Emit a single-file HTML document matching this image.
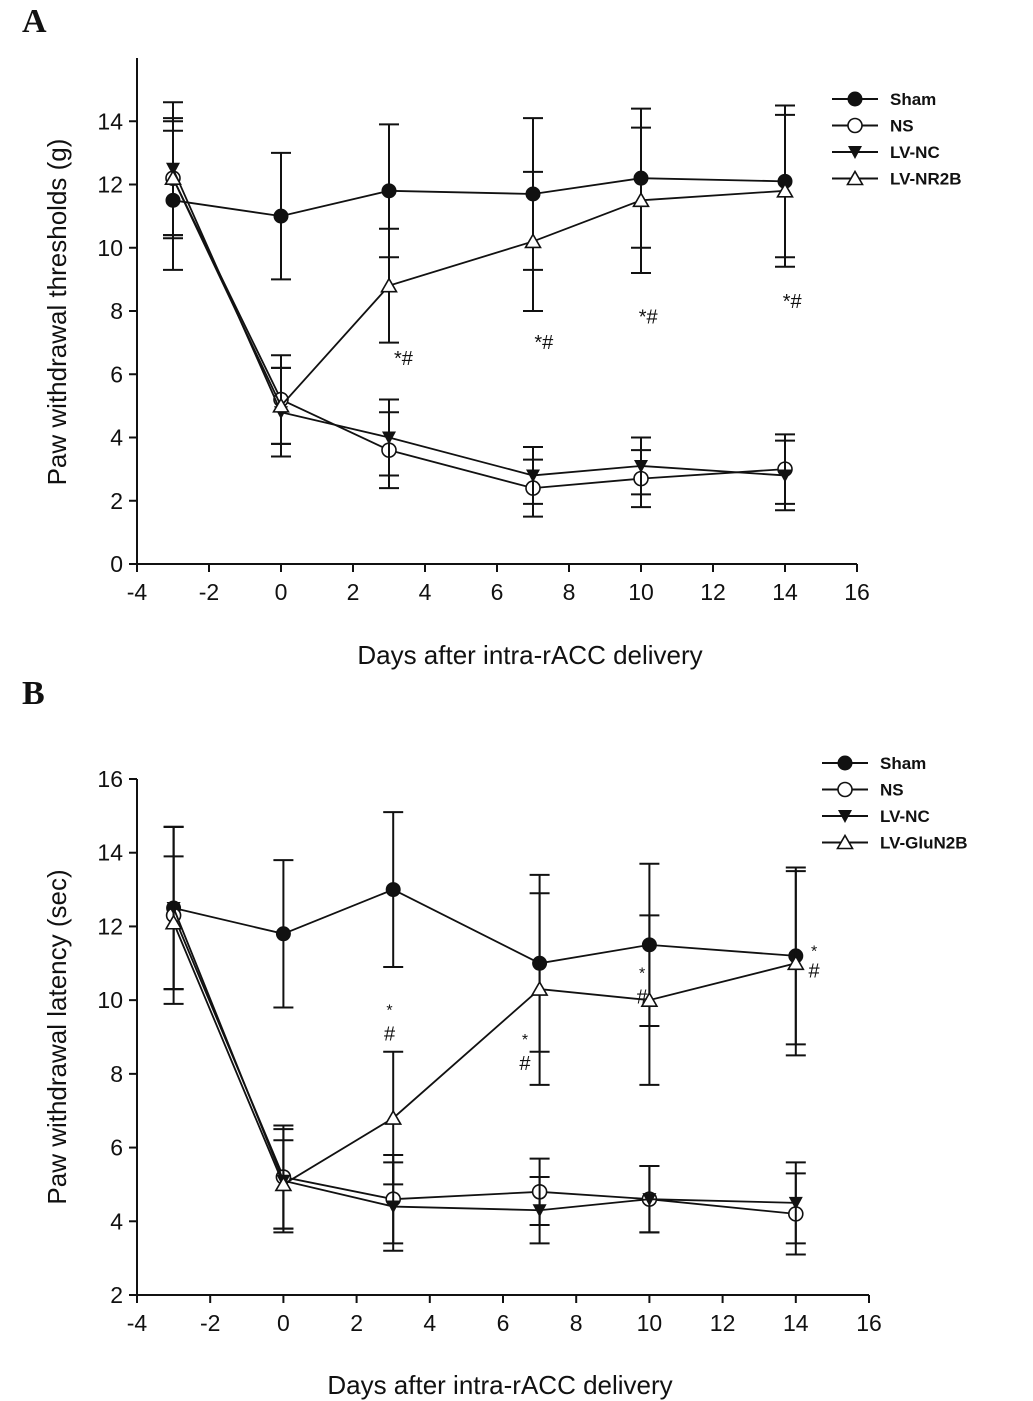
<!DOCTYPE html>
<html><head><meta charset="utf-8"><style>
html,body{margin:0;padding:0;background:#fff}
svg{display:block}
text{font-family:"Liberation Sans",Arial,sans-serif;fill:#111}
</style></head><body>
<svg id="fig" width="1033" height="1401" viewBox="0 0 1033 1401" xmlns="http://www.w3.org/2000/svg">
<text x="22" y="32" style="font-family:'Liberation Serif',serif;font-weight:bold;font-size:34px">A</text>
<text x="22" y="704" style="font-family:'Liberation Serif',serif;font-weight:bold;font-size:34px">B</text>
</svg>
<script>
const days = [-3, 0, 3, 7, 10, 14];
const seriesNames = ["Sham", "NS", "LV-NC", "LV-NR2B"];
const seriesNamesB = ["Sham", "NS", "LV-NC", "LV-GluN2B"];
// Panel A means and SEM
const aSham = [11.5, 11.0, 11.8, 11.7, 12.2, 12.1];
const aShamErr = [2.2, 2.0, 2.1, 2.4, 2.2, 2.4];
const aNS = [12.2, 5.2, 3.6, 2.4, 2.7, 3.0];
const aNSErr = [1.8, 1.4, 1.2, 0.9, 0.9, 1.1];
const aNC = [12.5, 4.8, 4.0, 2.8, 3.1, 2.8];
const aNCErr = [2.1, 1.4, 1.2, 0.9, 0.9, 1.1];
const aNR2B = [12.2, 5.0, 8.8, 10.2, 11.5, 11.8];
const aNR2BErr = [1.9, 1.2, 1.8, 2.2, 2.3, 2.4];
// Panel B means and SEM
const bSham = [12.5, 11.8, 13.0, 11.0, 11.5, 11.2];
const bShamErr = [2.2, 2.0, 2.1, 2.4, 2.2, 2.4];
const bNS = [12.3, 5.2, 4.6, 4.8, 4.6, 4.2];
const bNSErr = [2.4, 1.4, 1.2, 0.9, 0.9, 1.1];
const bNC = [12.5, 5.1, 4.4, 4.3, 4.6, 4.5];
const bNCErr = [2.2, 1.4, 1.2, 0.9, 0.9, 1.1];
const bGlu = [12.1, 5.0, 6.8, 10.3, 10.0, 11.0];
const bGluErr = [1.8, 1.2, 1.8, 2.6, 2.3, 2.5];
const xTicks = [-4, -2, 0, 2, 4, 6, 8, 10, 12, 14, 16];
const yTicksA = [0, 2, 4, 6, 8, 10, 12, 14];
const yTicksB = [2, 4, 6, 8, 10, 12, 14, 16];
const annotA = [[3.4, 6.3], [7.3, 6.8], [10.2, 7.6], [14.2, 8.1]];
const annotB = [[2.9, 9.8, 9.1], [6.6, 9.0, 8.3], [9.8, 10.8, 10.1], [14.5, 11.4, 10.8]];

const NS = "http://www.w3.org/2000/svg";
const svg = document.getElementById('fig');
function el(tag, attrs, parent) {
  const e = document.createElementNS(NS, tag);
  for (const k in attrs) e.setAttribute(k, attrs[k]);
  (parent || svg).appendChild(e);
  return e;
}
const markers = ["filled-circle", "open-circle", "filled-down-triangle", "open-up-triangle"];
function marker(type, cx, cy, g) {
  let m;
  if (type === "filled-circle") m = el('circle', {cx: cx, cy: cy, r: 7, fill: '#111', stroke: '#111'}, g);
  else if (type === "open-circle") m = el('circle', {cx: cx, cy: cy, r: 7, fill: '#fff', stroke: '#111', 'stroke-width': 1.6}, g);
  else if (type === "filled-down-triangle") m = el('polygon', {points: `${cx-7},${cy-6} ${cx+7},${cy-6} ${cx},${cy+7}`, fill: '#111'}, g);
  else m = el('polygon', {points: `${cx-7.5},${cy+6} ${cx+7.5},${cy+6} ${cx},${cy-7}`, fill: '#fff', stroke: '#111', 'stroke-width': 1.6}, g);
  return m;
}
function panel(cfg) {
  const sx = v => cfg.x0 + (v - cfg.xmin) / (cfg.xmax - cfg.xmin) * (cfg.x1 - cfg.x0);
  const sy = v => cfg.y0 - (v - cfg.ymin) / (cfg.ymax - cfg.ymin) * (cfg.y0 - cfg.y1);
  const g = el('g', {});
  
  
  const ax = el('path', {d: `M${cfg.x0},${cfg.y1} V${cfg.y0} H${cfg.x1}`, fill: 'none', stroke: '#111', 'stroke-width': 2}, g);
  
  
  xTicks.forEach(t => {
    el('line', {x1: sx(t), x2: sx(t), y1: cfg.y0, y2: cfg.y0 + 8, stroke: '#111', 'stroke-width': 2}, g);
    const tx = el('text', {x: sx(t), y: cfg.y0 + 36, 'text-anchor': 'middle', 'font-size': 23}, g);
    tx.textContent = t;
    
    
  });
  cfg.yTicks.forEach(t => {
    el('line', {x1: cfg.x0 - 8, x2: cfg.x0, y1: sy(t), y2: sy(t), stroke: '#111', 'stroke-width': 2}, g);
    const tx = el('text', {x: cfg.x0 - 14, y: sy(t) + 8, 'text-anchor': 'end', 'font-size': 23}, g);
    tx.textContent = t;
    
    
  });
  const xt = el('text', {x: cfg.xTitleX, y: cfg.xTitleY, 'text-anchor': 'middle', 'font-size': 26}, g);
  xt.textContent = "Days after intra-rACC delivery";
  
  
  const yt = el('text', {x: 0, y: 0, 'text-anchor': 'middle', 'font-size': 26, transform: `translate(${cfg.yTitleX},${cfg.yTitleY}) rotate(-90)`}, g);
  yt.textContent = cfg.yTitle;
  
  
  cfg.series.forEach((s, i) => {
    const sg = el('g', {}, g);
    
    
    days.forEach((d, j) => {
      const x = sx(d), hi = sy(s.v[j] + s.e[j]), lo = sy(s.v[j] - s.e[j]);
      el('path', {d: `M${x},${hi} V${lo} M${x-10},${hi} h20 M${x-10},${lo} h20`, stroke: '#111', 'stroke-width': 2, fill: 'none'}, sg);
    });
    el('polyline', {points: days.map((d, j) => sx(d) + ',' + sy(s.v[j])).join(' '), fill: 'none', stroke: '#111', 'stroke-width': 1.8}, sg);
    days.forEach((d, j) => {
      const m = marker(markers[i], sx(d), sy(s.v[j]), sg);
      
      
    });
  });
  const lg = el('g', {}, g);
  
  
  cfg.names.forEach((n, i) => {
    const y = cfg.legY + i * 26.5;
    el('line', {x1: cfg.legX, x2: cfg.legX + 46, y1: y, y2: y, stroke: '#111', 'stroke-width': 2}, lg);
    marker(markers[i], cfg.legX + 23, y, lg);
    const t = el('text', {x: cfg.legX + 58, y: y + 6, 'font-size': 17, 'font-weight': 'bold'}, lg);
    t.textContent = n;
    
    
  });
  cfg.annot.forEach(a => {
    if (a.length === 2) {
      const t = el('text', {x: sx(a[0]), y: sy(a[1]), 'text-anchor': 'middle', 'font-size': 20}, g);
      t.textContent = "*#";
      
      
    } else {
      const t1 = el('text', {x: sx(a[0]), y: sy(a[1]) + 8, 'text-anchor': 'middle', 'font-size': 16}, g);
      t1.textContent = "*";
      
      
      const t2 = el('text', {x: sx(a[0]), y: sy(a[2]) + 7, 'text-anchor': 'middle', 'font-size': 20}, g);
      t2.textContent = "#";
      
      
    }
  });
}
panel({id: 'panel-a', x0: 137, x1: 857, xmin: -4, xmax: 16, y0: 564, y1: 58, ymin: 0, ymax: 16,
  yTicks: yTicksA, yTitle: "Paw withdrawal thresholds (g)", yTitleX: 66, yTitleY: 312,
  xTitleX: 530, xTitleY: 664, names: seriesNames, legX: 832, legY: 99, annot: annotA,
  series: [{v: aSham, e: aShamErr}, {v: aNS, e: aNSErr}, {v: aNC, e: aNCErr}, {v: aNR2B, e: aNR2BErr}]});
panel({id: 'panel-b', x0: 137, x1: 869, xmin: -4, xmax: 16, y0: 1295, y1: 779, ymin: 2, ymax: 16,
  yTicks: yTicksB, yTitle: "Paw withdrawal latency (sec)", yTitleX: 66, yTitleY: 1037,
  xTitleX: 500, xTitleY: 1394, names: seriesNamesB, legX: 822, legY: 763, annot: annotB,
  series: [{v: bSham, e: bShamErr}, {v: bNS, e: bNSErr}, {v: bNC, e: bNCErr}, {v: bGlu, e: bGluErr}]});
</script>
</body></html>
